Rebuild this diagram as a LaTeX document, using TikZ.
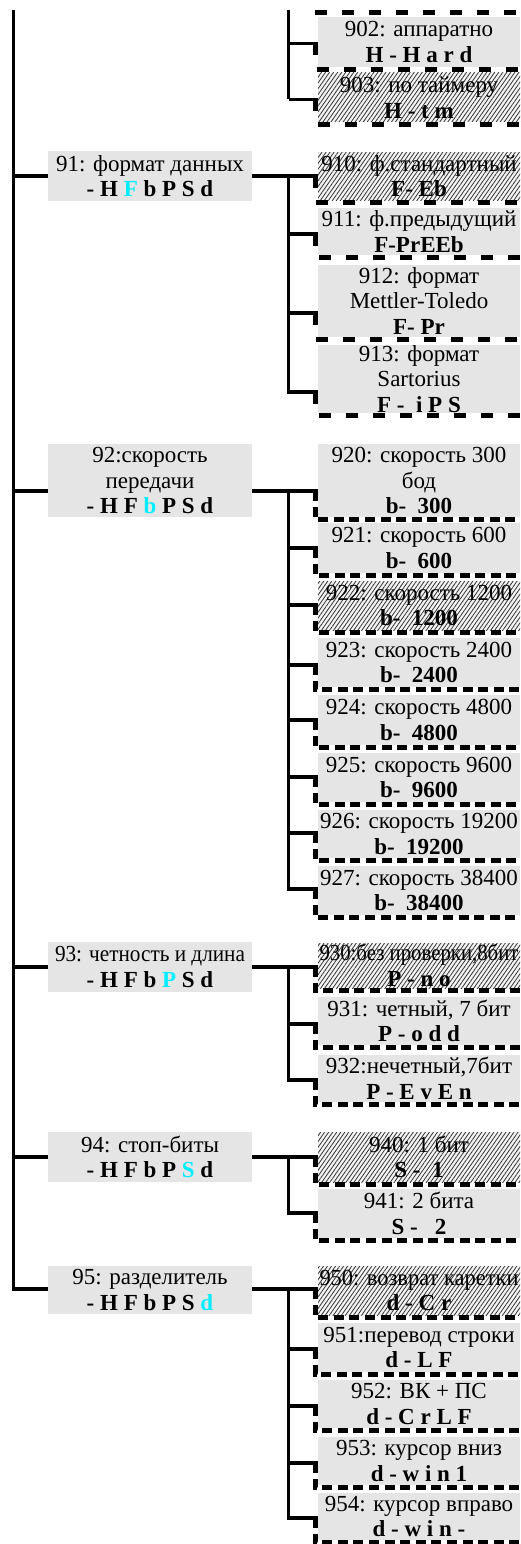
\documentclass[tikz,border=0pt]{standalone}
\usepackage{fontspec}
\setmainfont{Liberation Serif}
\usetikzlibrary{patterns.meta}
\definecolor{boxgray}{RGB}{229,229,229}
\definecolor{hl}{RGB}{0,238,255}
\newsavebox\fitbox
\newcommand\fitw[2]{\sbox\fitbox{#2}\pgfmathsetmacro\fitf{min(1,#1/(\the\wd\fitbox))}\scalebox{\fitf}[1]{\usebox\fitbox}}
\newcommand\fitt[1]{\fitw{199}{#1}}
\tikzset{
  conn/.style={line width=3.5pt},
  boxfont/.style={font=\fontsize{23}{25.5}\selectfont},
  lbox/.style={fill=boxgray, minimum width=204pt, inner sep=0pt, align=center, boxfont},
  rbox/.style={fill=boxgray, minimum width=202pt, inner sep=0pt, align=center, boxfont},
  plain/.style={},
  hatch/.style={fill=boxgray!45, postaction={pattern={Lines[angle=55,distance=3.3pt,line width=0.8pt]}, pattern color=black!80}},
  dashA/.style={line width=5pt, dash pattern=on 12pt off 15pt},
  dashB/.style={line width=5pt, dash pattern=on 10pt off 5.6pt},
}
% right box: name, top, bottom, branch y, style, dash style, text
\newcommand\RB[7]{%
  \node[rbox,#5,minimum height={(#3)-(#2)}] (#1) at (419,{((#2)+(#3))/2}) {#7};
  \coordinate (#1b) at (318,#4);
  \draw[conn] (mx |- #1b) -- (#1b);
  \draw[#6] (315.5,#4) -- (315.5,{#3+2.5}) -- (523,{#3+2.5});
}
% left box: name, top, bottom, branch y, text
\newcommand\LB[5]{%
  \node[lbox,minimum height={(#3)-(#2)}] (#1) at (150,{((#2)+(#3))/2}) {#5};
  \coordinate (#1b) at (252,#4);
  \draw[conn] (mtop |- #1b) -- (#1.west |- #1b);
}
\begin{document}
\begin{tikzpicture}[x=1pt,y=-1pt]
\useasboundingbox (0,0) rectangle (520,1544);
\coordinate (mtop) at (13.5,10);
\coordinate (mx) at (288.5,10);
% group 90 (partial)
\draw[dashA] (315,12.5) -- (523,12.5);
\RB{R902}{17}{67}{43.5}{plain}{dashA}{\fitt{902: аппаратно}\\\textbf{H - H a r d}}
\RB{R903}{73}{122}{99.5}{hatch}{dashA}{\fitt{903: по таймеру}\\\textbf{H - t m}}
\draw[conn] (mx) -- (mx |- R903b);
% group 91
\LB{L91}{151}{201}{176}{91: формат данных\\\textbf{- H \textcolor{hl}{F} b P S d}}
\RB{R910}{152}{200}{176}{hatch}{dashA}{\fitt{910: ф.стандартный}\\\textbf{F- Eb}}
\RB{R911}{208}{255}{234}{plain}{dashA}{\fitt{911: ф.предыдущий}\\\textbf{F-PrEEb}}
\RB{R912}{265}{337}{313}{plain}{dashA}{912: формат\\Mettler-Toledo\\\textbf{F- Pr}}
\RB{R913}{345}{413}{392}{plain}{dashA}{913: формат\\Sartorius\\\textbf{F -\ \ i P S}}
\draw[conn] (L91b) -| (mx |- R913b) -- (R913b);
% group 92
\LB{L92}{444}{517}{491}{92:скорость\\передачи\\\textbf{- H F \textcolor{hl}{b} P S d}}
\RB{R920}{444}{517}{491}{plain}{dashB}{\fitt{920: скорость 300}\\бод\\\textbf{b-\ \ 300}}
\RB{R921}{523}{573}{548}{plain}{dashB}{\fitt{921: скорость 600}\\\textbf{b-\ \ 600}}
\RB{R922}{581}{630}{605}{hatch}{dashB}{\fitt{922: скорость 1200}\\\textbf{b-\ \ 1200}}
\RB{R923}{638}{687}{665}{plain}{dashB}{\fitt{923: скорость 2400}\\\textbf{b-\ \ 2400}}
\RB{R924}{695}{745}{720}{plain}{dashB}{\fitt{924: скорость 4800}\\\textbf{b-\ \ 4800}}
\RB{R925}{753}{802}{777}{plain}{dashB}{\fitt{925: скорость 9600}\\\textbf{b-\ \ 9600}}
\RB{R926}{810}{858}{833}{plain}{dashB}{\fitt{926: скорость 19200}\\\textbf{b-\ \ 19200}}
\RB{R927}{866}{915}{889}{plain}{dashB}{\fitt{927: скорость 38400}\\\textbf{b-\ \ 38400}}
\draw[conn] (L92b) -| (mx |- R927b) -- (R927b);
% group 93
\LB{L93}{942}{992}{967}{\fitw{190}{93: четность и длина}\\\textbf{- H F b \textcolor{hl}{P} S d}}
\RB{R930}{943}{988}{967}{hatch}{dashB}{\fitt{930:без проверки,8бит}\\\textbf{P - n o}}
\RB{R931}{997}{1045}{1024}{plain}{dashB}{\fitt{931: четный, 7 бит}\\\textbf{P - o d d}}
\RB{R932}{1055}{1102}{1080}{plain}{dashB}{\fitt{932:нечетный,7бит}\\\textbf{P - E v E n}}
\draw[conn] (L93b) -| (mx |- R932b) -- (R932b);
% group 94
\LB{L94}{1132}{1182}{1157}{94: стоп-биты\\\textbf{- H F b P \textcolor{hl}{S} d}}
\RB{R940}{1132}{1182}{1157}{hatch}{dashB}{940: 1 бит\\\textbf{S -\ \ 1}}
\RB{R941}{1189}{1238}{1213}{plain}{dashB}{941: 2 бита\\\textbf{S -\ \ \ 2}}
\draw[conn] (L94b) -| (mx |- R941b) -- (R941b);
% group 95
\LB{L95}{1266}{1314}{1289}{95: разделитель\\\textbf{- H F b P S \textcolor{hl}{d}}}
\RB{R950}{1266}{1315}{1289}{hatch}{dashB}{\fitt{950: возврат каретки}\\\textbf{d - C r}}
\RB{R951}{1323}{1372}{1349}{plain}{dashB}{\fitt{951:перевод строки}\\\textbf{d - L F}}
\RB{R952}{1380}{1428}{1406}{plain}{dashB}{\fitt{952: ВК + ПС}\\\textbf{d - C r L F}}
\RB{R953}{1437}{1485}{1463}{plain}{dashB}{\fitt{953: курсор вниз}\\\textbf{d - w i n 1}}
\RB{R954}{1493}{1540}{1518}{plain}{dashB}{\fitt{954: курсор вправо}\\\textbf{d - w i n -}}
\draw[conn] (L95b) -| (mx |- R954b) -- (R954b);
% main vertical
\draw[conn] (mtop) |- (L95.west |- L95b);
\end{tikzpicture}
\end{document}
